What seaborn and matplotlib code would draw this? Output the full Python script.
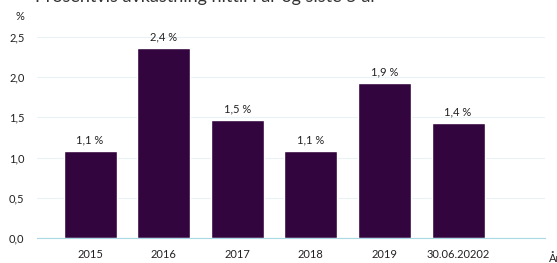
import matplotlib
matplotlib.use("Agg")
import matplotlib.pyplot as plt
import seaborn as sns

# data
years = ["2015", "2016", "2017", "2018", "2019", "30.06.20202"]
returns = [1.08, 2.36, 1.47, 1.08, 1.93, 1.43]
labels = ["1,1 %", "2,4 %", "1,5 %", "1,1 %", "1,9 %", "1,4 %"]
yticks = [0.0, 0.5, 1.0, 1.5, 2.0, 2.5]
ytick_labels = ["0,0", "0,5", "1,0", "1,5", "2,0", "2,5"]

sns.set_theme(style="white")
plt.rcParams["font.family"] = ["Lato", "DejaVu Sans"]

fig = plt.figure(figsize=(5.57, 2.63), dpi=100)
ax = fig.add_axes([37 / 557, 1 - 238 / 263, (545 - 37) / 557, (238 - 37) / 263])

sns.barplot(x=years, y=returns, color="#33053f", width=0.72, saturation=1, ax=ax)

ax.set_xlim(-0.72, 6.18)
ax.set_ylim(0, 2.5)
ax.set_yticks(yticks)
ax.set_yticklabels(ytick_labels)
ax.yaxis.grid(True, color="#eaf2f5", linewidth=0.8)
ax.set_axisbelow(True)
for s in ["top", "right", "left"]:
    ax.spines[s].set_visible(False)
ax.spines["bottom"].set_color("#a9d9e2")
ax.spines["bottom"].set_linewidth(0.8)
ax.tick_params(axis="both", length=0, labelsize=8, colors="#222222")
ax.tick_params(axis="x", pad=8)
ax.tick_params(axis="y", pad=9)

for i, (v, t) in enumerate(zip(returns, labels)):
    ax.annotate(t, (i, v), xytext=(0, 4), textcoords="offset points",
                ha="center", va="bottom", fontsize=8, color="#222222")

fig.text(20 / 557, 1 - 16 / 263, "%", fontsize=8, color="#222222", ha="center", va="center")
fig.text(549 / 557, 1 - 258 / 263, "År", fontsize=8, color="#222222", ha="left", va="center")
fig.text(35 / 557, 1 - 2 / 263, "Prosentvis avkastning hittil i år og siste 5 år",
         fontsize=13, color="#333333", ha="left", va="baseline")

fig.savefig("out.png", dpi=100)
